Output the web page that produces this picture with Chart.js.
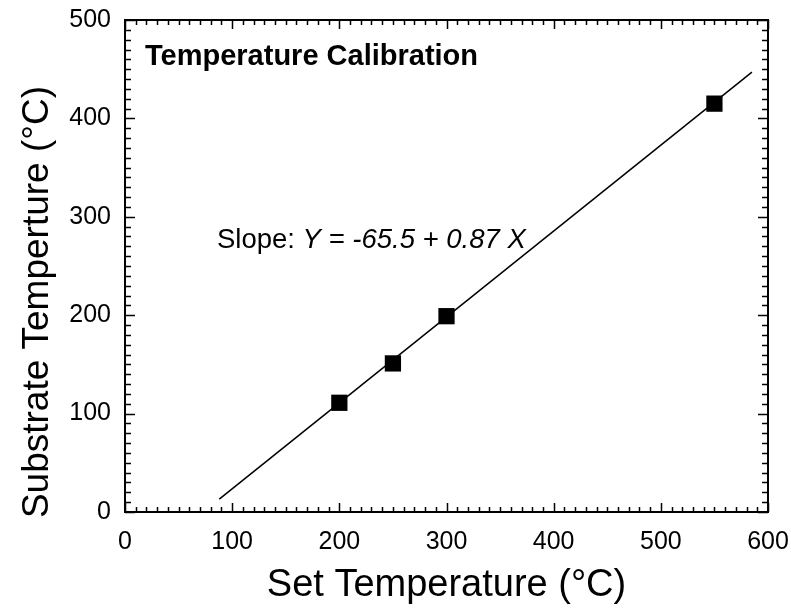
<!DOCTYPE html>
<html>
<head>
<meta charset="utf-8">
<script src="https://cdn.jsdelivr.net/npm/chart.js@4.4.0/dist/chart.umd.min.js"></script>
<style>
  html, body { margin: 0; padding: 0; background: #fff; }
  #wrap { width: 791px; height: 614px; position: relative; }
</style>
</head>
<body>
<div id="wrap"><canvas id="c"></canvas></div>
<script>
// ---- data ----
const setTemp = [200, 250, 300, 550];
const substrateTemp = [111, 151, 199, 415];
const fitX = [88, 585];
const fitY = [13, 447];
const xTicks = [0, 100, 200, 300, 400, 500, 600];
const yTicks = [0, 100, 200, 300, 400, 500];
const chartTitle = 'Temperature Calibration';
const slopeLabel = 'Slope: ';
const slopeEq = 'Y = -65.5 + 0.87 X';
const xTitle = 'Set Temperature (°C)';
const yTitle = 'Substrate Temperture (°C)';

const FONT = '"Liberation Sans", Arial, Helvetica, sans-serif';

const frameTicks = {
  id: 'frameTicks',
  afterDatasetsDraw(chart) {
    const ctx = chart.ctx;
    const a = chart.chartArea;
    const xs = chart.scales.x, ys = chart.scales.y;
    ctx.save();
    ctx.strokeStyle = '#000';
    ctx.lineWidth = 2;
    ctx.strokeRect(a.left, a.top, a.right - a.left, a.bottom - a.top);
    ctx.lineWidth = 1.5;
    ctx.beginPath();
    for (let v = xs.min; v <= xs.max + 0.001; v += 10) {
      const px = Math.round(xs.getPixelForValue(v)) + 0.5;
      const len = (Math.round(v) % 100 === 0) ? 9 : 5;
      ctx.moveTo(px, a.bottom); ctx.lineTo(px, a.bottom - len);
      ctx.moveTo(px, a.top); ctx.lineTo(px, a.top + len);
    }
    for (let v = ys.min; v <= ys.max + 0.001; v += 10) {
      const py = Math.round(ys.getPixelForValue(v)) + 0.5;
      const len = (Math.round(v) % 100 === 0) ? 10 : 6;
      ctx.moveTo(a.left, py); ctx.lineTo(a.left + len, py);
      ctx.moveTo(a.right, py); ctx.lineTo(a.right - len, py);
    }
    ctx.stroke();

    // annotations
    ctx.fillStyle = '#000';
    ctx.textBaseline = 'middle';
    ctx.textAlign = 'left';
    ctx.font = 'bold 29px ' + FONT;
    ctx.fillText(chartTitle, a.left + 20, a.top + 37);
    ctx.font = '27.5px ' + FONT;
    const sx = a.left + 92, sy = a.top + 220;
    ctx.fillText(slopeLabel, sx, sy);
    const w = ctx.measureText(slopeLabel).width;
    ctx.font = 'italic 27.5px ' + FONT;
    ctx.fillText(slopeEq, sx + w, sy);

    // y axis title (rotated), placed slightly below plot centre like the reference
    ctx.save();
    ctx.translate(38, (a.top + a.bottom) / 2 + 36);
    ctx.rotate(-Math.PI / 2);
    ctx.textAlign = 'center';
    ctx.font = '37px ' + FONT;
    ctx.fillText(yTitle, 0, 0);
    ctx.restore();
    ctx.restore();
  }
};

new Chart(document.getElementById('c'), {
  type: 'scatter',
  data: {
    datasets: [
      {
        label: 'Measured',
        data: setTemp.map((x, i) => ({ x: x, y: substrateTemp[i] })),
        pointStyle: 'rect',
        pointRadius: 11.5,
        pointHoverRadius: 11.5,
        backgroundColor: '#000',
        borderColor: '#000',
        borderWidth: 0
      },
      {
        label: 'Fit',
        data: fitX.map((x, i) => ({ x: x, y: fitY[i] })),
        showLine: true,
        borderColor: '#000',
        borderWidth: 1.5,
        pointRadius: 0,
        pointHoverRadius: 0,
        fill: false
      }
    ]
  },
  options: {
    responsive: true,
    maintainAspectRatio: false,
    animation: false,
    events: [],
    layout: { padding: { top: 20, right: 23, left: 0, bottom: 0 } },
    plugins: { legend: { display: false }, tooltip: { enabled: false } },
    scales: {
      x: {
        type: 'linear',
        min: 0, max: 600,
        afterBuildTicks(s) { s.ticks = xTicks.map(v => ({ value: v })); },
        afterFit(s) { s.height = 102; s.paddingLeft = 0; s.paddingRight = 0; },
        grid: { display: false, drawTicks: false },
        border: { display: false },
        ticks: { color: '#000', font: { family: FONT, size: 25 }, padding: 15, maxRotation: 0 },
        title: { display: true, text: xTitle, color: '#000', font: { family: FONT, size: 38 }, padding: { top: 8, bottom: 6 } }
      },
      y: {
        type: 'linear',
        min: 0, max: 500,
        afterBuildTicks(s) { s.ticks = yTicks.map(v => ({ value: v })); },
        afterFit(s) { s.width = 125; s.paddingTop = 0; s.paddingBottom = 0; },
        grid: { display: false, drawTicks: false },
        border: { display: false },
        ticks: { color: '#000', font: { family: FONT, size: 25 }, padding: 14 },
        title: { display: false, text: yTitle }
      }
    }
  },
  plugins: [frameTicks]
});
</script>
</body>
</html>
